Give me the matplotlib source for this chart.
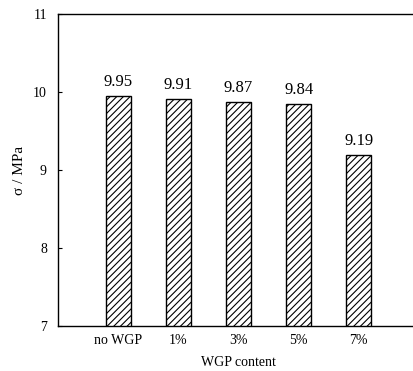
import matplotlib.pyplot as plt

plt.rcParams['font.family'] = ['Liberation Serif', 'DejaVu Serif']
plt.rcParams['hatch.linewidth'] = 0.8

categories = ['no WGP', '1%', '3%', '5%', '7%']
strength = [9.95, 9.91, 9.87, 9.84, 9.19]

fig = plt.figure(figsize=(4.14, 3.71), dpi=100)
ax = fig.add_axes([58 / 414, 45 / 371, 361 / 414, 312 / 371])
ax.patch.set_visible(False)

pos = list(range(1, len(categories) + 1))
ax.bar(pos, strength, width=0.41, color='white', edgecolor='black',
       linewidth=1.0, hatch='/////')

for x, v in zip(pos, strength):
    ax.text(x, v + 0.08, f'{v:.2f}', ha='center', va='bottom', fontsize=12)

ax.set_xlim(0, 6)
ax.set_ylim(7, 11)
ax.set_yticks([7, 8, 9, 10, 11])
ax.set_xticks(pos)
ax.set_xticklabels(categories)
ax.tick_params(axis='y', direction='in', length=3, labelsize=10, pad=8,
               right=False)
ax.tick_params(axis='x', length=0, labelsize=10, pad=6)
ax.spines['right'].set_visible(False)
for s in ['left', 'bottom', 'top']:
    ax.spines[s].set_linewidth(1.0)

ax.set_xlabel('WGP content', fontsize=10, labelpad=6)
ax.set_ylabel('σ / MPa', fontsize=11, labelpad=5)

fig.savefig('out.png', dpi=100)
